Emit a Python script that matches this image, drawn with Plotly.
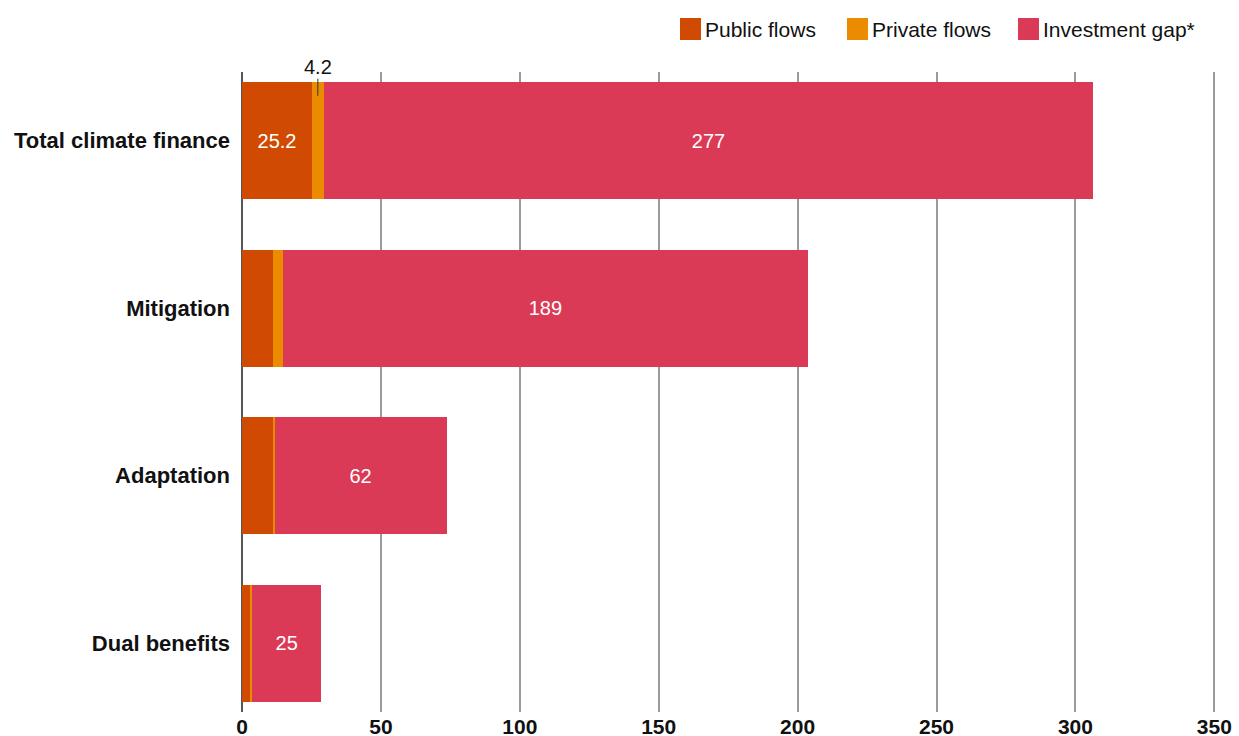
import plotly.graph_objects as go

# Climate finance by category (USD bn)
categories = ["Total climate finance", "Mitigation", "Adaptation", "Dual benefits"]
public_flows = [25.2, 11.2, 11.4, 3.2]
private_flows = [4.2, 3.5, 0.3, 0.4]
investment_gap = [277, 189, 62, 25]

public_labels = ["25.2", "", "", ""]
gap_labels = ["277", "189", "62", "25"]
x_ticks = [0, 50, 100, 150, 200, 250, 300, 350]

C_PUBLIC = "#D04A02"
C_PRIVATE = "#EB8C00"
C_GAP = "#DB3A56"
FONT = "Liberation Sans, Arial, Helvetica, sans-serif"

W, H = 1239, 736
X_MAX = 350.6
M_L, M_R, M_T, M_B = 242, 23, 72, 24
BAR_W = 0.7

fig = go.Figure()
fig.add_trace(go.Bar(
    y=categories, x=public_flows, orientation="h", name="Public flows",
    marker=dict(color=C_PUBLIC, line=dict(width=0)), width=BAR_W,
    text=public_labels, textposition="inside", insidetextanchor="middle",
    textangle=0, textfont=dict(color="white", size=20, family=FONT),
    hoverinfo="x+name",
))
fig.add_trace(go.Bar(
    y=categories, x=private_flows, orientation="h", name="Private flows",
    marker=dict(color=C_PRIVATE, line=dict(width=0)), width=BAR_W,
    hoverinfo="x+name",
))
fig.add_trace(go.Bar(
    y=categories, x=investment_gap, orientation="h", name="Investment gap*",
    marker=dict(color=C_GAP, line=dict(width=0)), width=BAR_W,
    text=gap_labels, textposition="inside", insidetextanchor="middle",
    textangle=0, textfont=dict(color="white", size=20, family=FONT),
    hoverinfo="x+name",
))

# Callout for the small private-flows segment of the total bar
x_mid = public_flows[0] + private_flows[0] / 2
fig.add_shape(type="line", xref="x", yref="y",
              x0=x_mid, x1=x_mid, y0=-0.37, y1=-0.268,
              line=dict(color="#333333", width=1))
fig.add_annotation(xref="x", yref="y", x=x_mid, y=-0.37,
                   text=f"{private_flows[0]}", showarrow=False,
                   yanchor="bottom", xanchor="center", yshift=-1,
                   font=dict(size=20, color="#111111", family=FONT))

# Legend drawn as coloured squares with labels, placed in paper space
pw = W - M_L - M_R
ph = H - M_T - M_B


def px_x(p):
    return (p - M_L) / pw


def px_y(p):
    return (H - M_B - p) / ph


legend_items = [("Public flows", C_PUBLIC, 680), ("Private flows", C_PRIVATE, 847),
                ("Investment gap*", C_GAP, 1018)]
for label, color, left in legend_items:
    fig.add_shape(type="rect", xref="paper", yref="paper",
                  x0=px_x(left), x1=px_x(left + 21), y0=px_y(40), y1=px_y(18),
                  fillcolor=color, line=dict(width=0))
    fig.add_annotation(xref="paper", yref="paper", x=px_x(left + 23), y=px_y(29),
                       text=label, showarrow=False, xanchor="left", yanchor="middle",
                       font=dict(size=21, color="#111111", family=FONT))

fig.update_layout(
    barmode="stack",
    width=W, height=H,
    margin=dict(l=M_L, r=M_R, t=M_T, b=M_B, pad=0, autoexpand=False),
    plot_bgcolor="white", paper_bgcolor="white",
    showlegend=False,
    font=dict(family=FONT, color="#111111"),
    bargap=0.3,
)
fig.update_xaxes(
    range=[0, X_MAX], tickvals=x_ticks, ticktext=[str(v) for v in x_ticks],
    showgrid=True, gridcolor="#9a9a9a", gridwidth=1.5,
    zeroline=True, zerolinecolor="#555555", zerolinewidth=2,
    showline=False, ticks="", automargin=False,
    tickfont=dict(size=21, color="#111111", family=FONT, weight="bold"),
    fixedrange=True,
)
fig.update_yaxes(
    categoryorder="array", categoryarray=categories,
    range=[3.41, -0.41], showgrid=False, zeroline=False, showline=False,
    ticks="", ticklabelstandoff=11, automargin=False,
    tickfont=dict(size=22, color="#111111", family=FONT, weight="bold"),
    fixedrange=True,
)

fig.write_html("out.html")
